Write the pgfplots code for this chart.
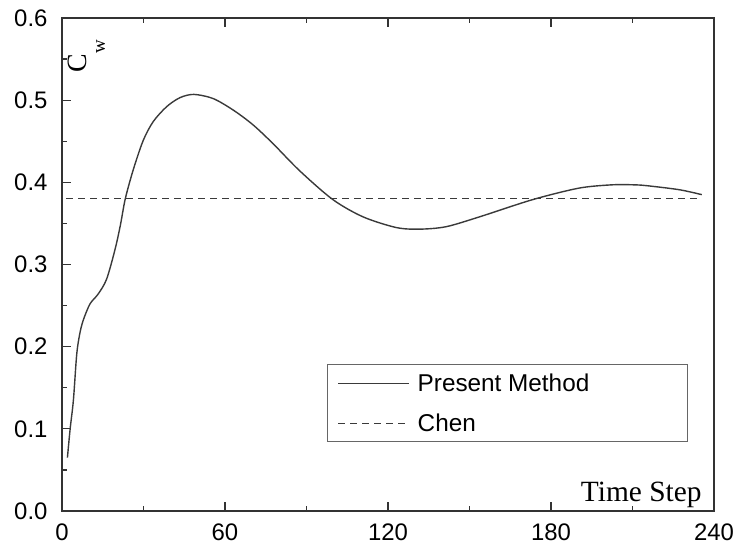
\documentclass[border=0pt]{standalone}
\usepackage{pgfplots}
\pgfplotsset{compat=1.18}
\usepackage{fontspec}
\setmainfont{Liberation Sans}
\newfontfamily\timesfont{Liberation Serif}
\definecolor{axgray}{HTML}{333333}
\definecolor{curve}{HTML}{3A3A3A}

\begin{document}
\begin{tikzpicture}
\begin{axis}[
  name=main,
  scale only axis,
  width=652bp, height=493bp,
  xmin=0, xmax=240, ymin=0, ymax=0.6,
  xtick={0,60,...,240},
  ytick={0,0.1,...,0.6},
  minor x tick num=1,
  minor y tick num=1,
  tick align=inside,
  xtick pos=both, ytick pos=left,
  xticklabel pos=bottom,
  major tick length=9bp,
  minor tick length=5bp,
  every tick/.style={axgray, line width=1.2bp},
  axis line style={axgray, line width=1.8bp},
  tick label style={font=\fontsize{24}{27}\selectfont},
  yticklabel style={xshift=-11bp, /pgf/number format/fixed, /pgf/number format/fixed zerofill, /pgf/number format/precision=1},
  xticklabel style={yshift=-9bp, /pgf/number format/fixed},
  /pgf/number format/assume math mode=true,
  scaled y ticks=false,
  legend style={at={(0.406,0.298)}, anchor=north west,
    draw=gray!80!black, line width=1.2bp,
    font=\fontsize{24.4}{27}\selectfont,
    row sep=17bp, inner xsep=10bp, inner ysep=7bp},
  /tikz/every odd column/.append style={column sep=6bp},
  legend cell align=left,
  legend image code/.code={\draw[#1] (0bp,0bp) -- (71bp,0bp);},
  clip=false,
]
% present method
\addplot[curve, line width=1.4bp, smooth, tension=0.5] coordinates {
  (2.0,0.065) (3.0,0.100) (4.2,0.135) (5.4,0.190) (6.5,0.215)
  (7.8,0.232) (10.3,0.252) (13.3,0.264) (16.4,0.282) (19.5,0.318)
  (21.5,0.348) (23.3,0.380) (26.2,0.415) (29.9,0.451) (33.6,0.474)
  (38.5,0.492) (43.4,0.503) (48.5,0.507) (55.6,0.502) (63,0.488)
  (70.3,0.470) (77.7,0.447) (87.5,0.414) (99.7,0.379) (110.8,0.358)
  (123,0.345) (131.6,0.343) (141.4,0.346) (153.7,0.358) (173.3,0.379)
  (190.4,0.393) (202.7,0.397) (210,0.397) (215,0.396) (227.2,0.391) (235.5,0.385)
};
\addlegendentry{\makebox[258bp][l]{Present Method}}
% reference value
\addplot[curve, line width=1.2bp, dash pattern=on 7bp off 5bp] coordinates {
  (1.5,0.380) (235.5,0.380)
};
\addlegendentry{Chen}
\node[rotate=90, anchor=base west, inner sep=0pt, font=\timesfont\fontsize{28}{30}\selectfont]
  at (axis cs:9.2,0.534) {C\raisebox{-18bp}{\fontsize{19}{19}\selectfont w}};
\node[anchor=base east, font=\timesfont\fontsize{29.5}{32}\selectfont, inner sep=0pt]
  at (axis cs:235.5,0.011) {Time Step};
\end{axis}
\pgfresetboundingbox
\useasboundingbox ([shift={(-62bp,-37bp)}]main.south west) rectangle ([shift={(21bp,18bp)}]main.north east);
\end{tikzpicture}
\end{document}
